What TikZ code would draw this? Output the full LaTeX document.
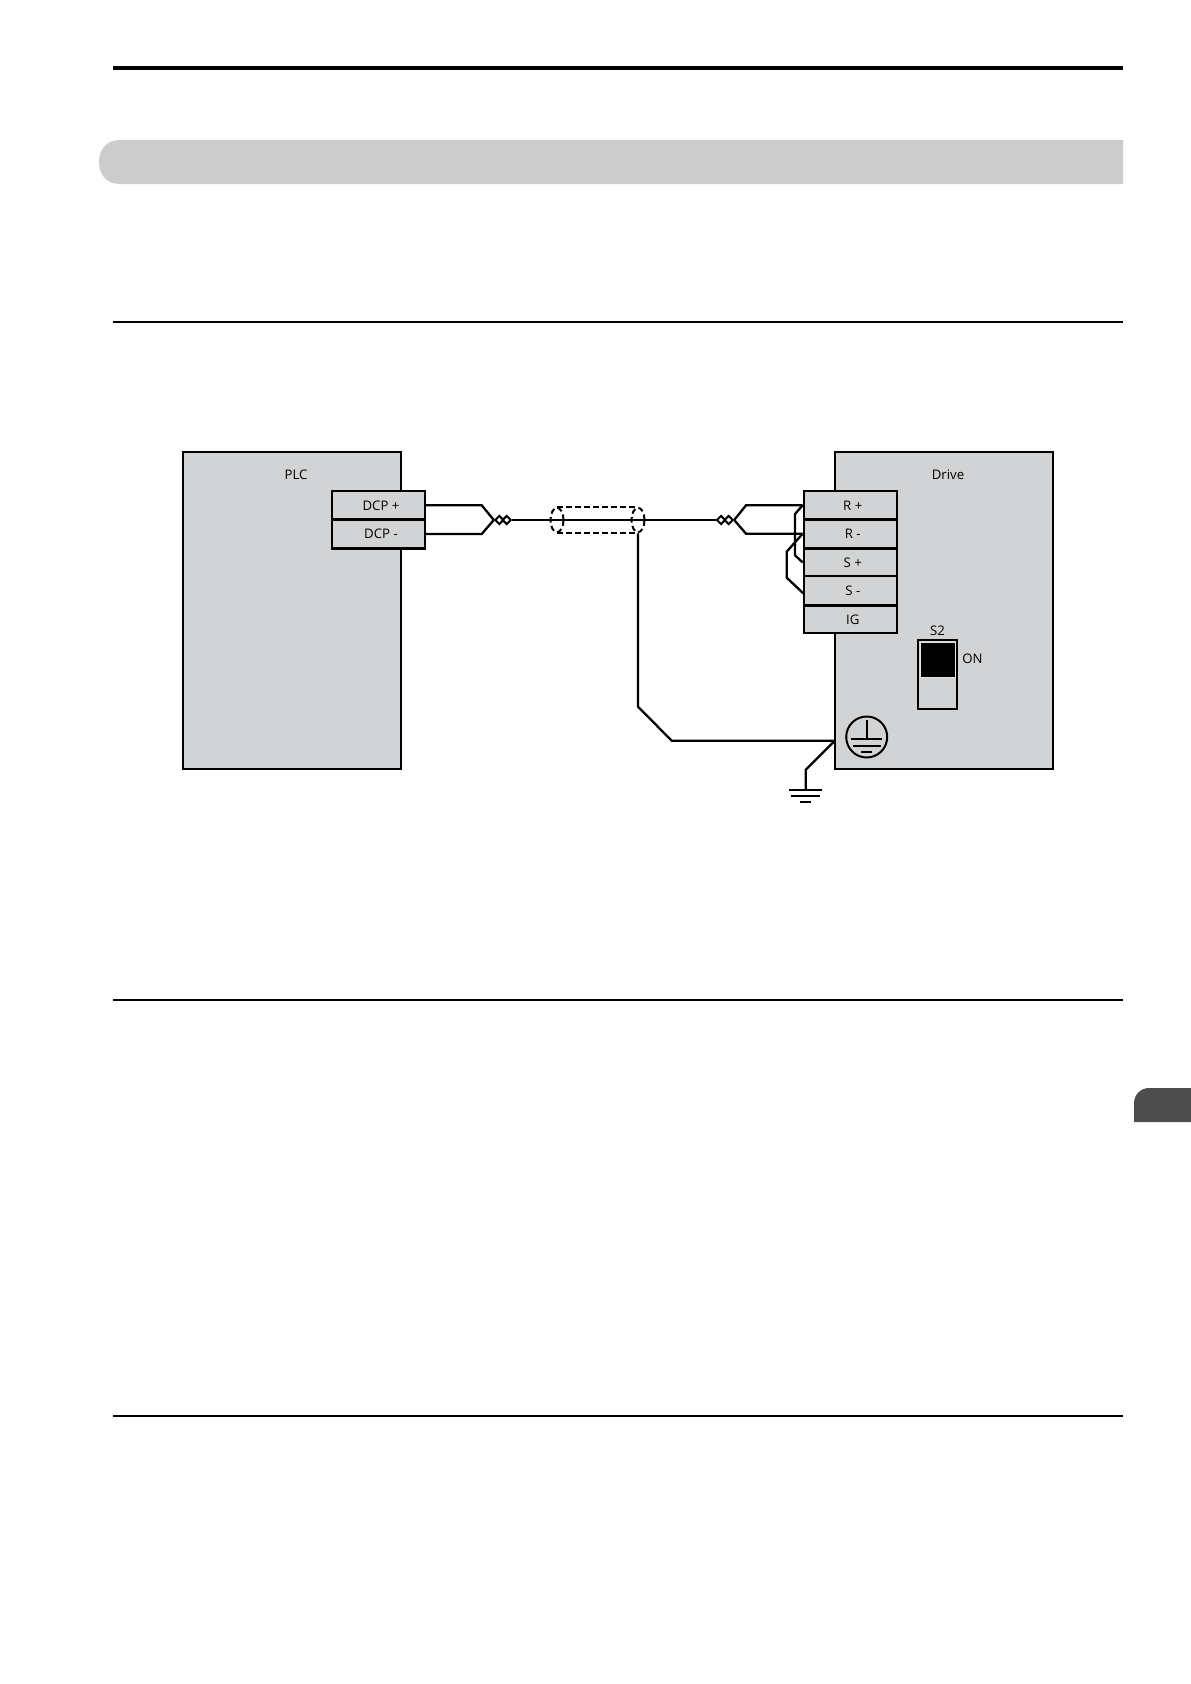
\documentclass[tikz,border=0pt]{standalone}
\usepackage{fontspec}
\setmainfont{Open Sans}
\usetikzlibrary{shapes.geometric,positioning}
\definecolor{boxgray}{HTML}{D1D3D4}
\definecolor{bandgray}{HTML}{CCCCCC}
\definecolor{tabgray}{HTML}{4D4D4D}

\begin{document}
\begin{tikzpicture}
[x=1pt,y=-1pt,line join=miter,font=\fontsize{13.2}{15}\selectfont,
wire/.style = {draw, line width=2.3pt},
unitbox/.style = {draw, fill = boxgray, line width=2.3pt, inner sep = 0pt},
termbox/.style = {unitbox, minimum width=93pt, minimum height=28pt},
termtext/.style = {xshift=2.5pt},
twist/.style = {draw, diamond, fill = white, line width=2pt, inner sep = 0pt, minimum size=9pt},
shield/.style = {draw, ellipse, dash pattern=on 5.5pt off 3.5pt, line width=2pt, inner sep = 0pt, minimum width=13pt, minimum height=24.5pt},
]
\useasboundingbox (0,0) rectangle (1191,1684);

% page furniture
\fill (113,66) rectangle (1123,70);
\fill (113,321) rectangle (1123,323);
\fill (113,999) rectangle (1123,1001);
\fill (113,1415) rectangle (1123,1417);
\fill[bandgray] (120,140) .. controls (106,140) and (99,150) .. (99,162) .. controls (99,174) and (106,184) .. (120,184) -- (1123,184) -- (1123,140) -- cycle;
\fill[tabgray] (1191,1122) -- (1134,1122) [rounded corners=15pt] -- (1134,1088) [sharp corners] -- (1191,1088) -- cycle;

% PLC side
\node (PLC) at (292,610.5)[unitbox,minimum width=218pt,minimum height=317pt] {};
\node (PLClabel) at (296,475) {PLC};
\node (DCPp) at (378.5,505.3)[termbox,minimum height=28.6pt,label={[termtext]center:DCP +}] {};
\node (DCPm) at (378.5,534)[termbox,minimum height=28.8pt,label={[termtext]center:DCP -}] {};

% Drive side
\node (Drive) at (943.7,610.5)[unitbox,minimum width=218pt,minimum height=317pt] {};
\node (Drivelabel) at (948,475) {Drive};
\node (Rp) at (850.3,505.3)[termbox,minimum height=28.6pt,label={[termtext]center:R +}] {};
\node (Rm) at (850.3,533.7)[termbox,minimum height=28.2pt,label={[termtext]center:R -}] {};
\node (Sp) at (850.3,562.4)[termbox,minimum height=27.4pt,label={[termtext]center:S +}] {};
\node (Sm) at (850.3,590.4)[termbox,minimum height=28.6pt,label={[termtext]center:S -}] {};
\node (IG) at (850.3,619.6)[termbox,minimum height=27.4pt,label={[termtext]center:IG}] {};

% S2 switch
\node (S2label) at (937.5,630.5) {S2};
\node (ONlabel) at (972.5,658.5) {ON};
\node (S2) at (937.5,674.5)[unitbox,minimum width=39.5pt,minimum height=69.5pt] {};
\node (S2on) at (937.5,659.5)[draw=boxgray!60!white,fill=black,line width=.6pt,inner sep=0pt,minimum width=35pt,minimum height=35pt] {};

% earth mark on the drive
\node (PE) at (866.7,737)[draw,circle,line width=2pt,inner sep=0pt,minimum size=41pt] {};
\draw[line width=1.8pt] (866.7,720) -- (866.7,739);
\draw[line width=1.8pt] (851,739) -- (882.3,739);
\draw[line width=1.8pt] (853,745.7) -- (880.7,745.7);
\draw[line width=1.8pt] (861,752) -- (872.3,752);

% twisted pair and shield
\node (twA) at (499.3,520)[twist] {};
\node (twB) at (506.7,520)[twist] {};
\node (twC) at (721,520)[twist] {};
\node (twD) at (728.7,520)[twist] {};
\node (shL) at (557,520)[shield] {};
\node (shR) at (638,520)[shield] {};
\draw[dash pattern=on 5.5pt off 3.5pt,line width=2pt] (shL.north) -- (shR.north);
\draw[dash pattern=on 5.5pt off 3.5pt,line width=2pt] (shL.south) -- (shR.south);

\coordinate (pa) at (481.7,505.3);
\coordinate (pb) at (481.7,534);
\coordinate (da) at (746,505.3);
\coordinate (db) at (746,533.7);

\draw[wire] (DCPp.east) -- (pa) -- (twA.west);
\draw[wire] (DCPm.east) -- (pb) -- (twA.west);
\draw[wire] (twB.east) -- (twC.west);
\draw[wire] (twD.east) -- (da) -- (Rp.west);
\draw[wire] (twD.east) -- (db) -- (Rm.west);

% jumpers
\coordinate (ja) at (795,514);
\coordinate (jb) at (795,555.3);
\coordinate (jc) at (786.7,551.7);
\coordinate (jd) at (786.7,577.7);
\coordinate (je) at (804,594);
\draw[wire] (Rp.west) -- (ja) -- (jb) -- (Sp.west);
\draw[wire] (Rm.west) -- (jc) -- (jd) -- (je);

% shield and earth wires
\coordinate (ga) at (638,706.7);
\coordinate (gb) at (671.7,740.7);
\coordinate (gc) at (834.7,740.7);
\coordinate (gd) at (805.7,769.7);
\coordinate (ge) at (805.7,790);
\draw[wire] (shR.south) -- (ga) -- (gb) -- (gc);
\draw[wire] (gc) -- (gd) -- (ge);
\draw[line width=2pt] (789,790) -- (821.7,790);
\draw[line width=2pt] (791,795.7) -- (820,795.7);
\draw[line width=2pt] (800,802) -- (811,802);

\end{tikzpicture}
\end{document}
